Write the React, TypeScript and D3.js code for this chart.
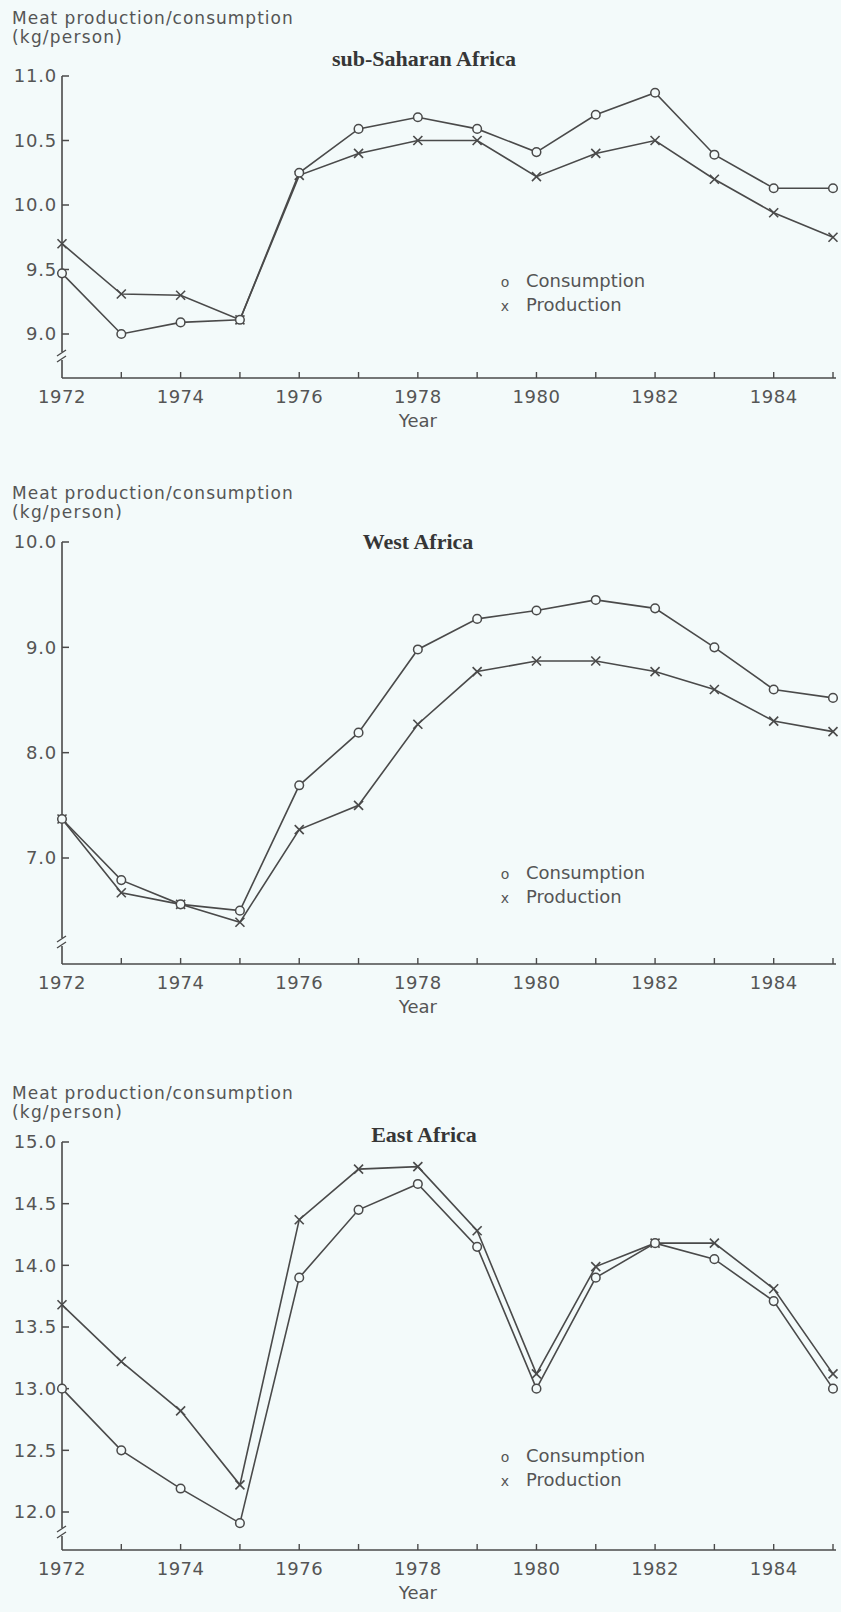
import React from 'react';
import * as d3 from 'd3';

// ---------- data ----------
const years = [1972, 1973, 1974, 1975, 1976, 1977, 1978, 1979, 1980, 1981, 1982, 1983, 1984, 1985];
const yearLabels = [1972, 1974, 1976, 1978, 1980, 1982, 1984];

const ssaConsumption = [9.47, 9.0, 9.09, 9.11, 10.25, 10.59, 10.68, 10.59, 10.41, 10.7, 10.87, 10.39, 10.13, 10.13];
const ssaProduction = [9.7, 9.31, 9.3, 9.11, 10.23, 10.4, 10.5, 10.5, 10.22, 10.4, 10.5, 10.2, 9.94, 9.75];
const ssaTicks = [9.0, 9.5, 10.0, 10.5, 11.0];

const waConsumption = [7.37, 6.79, 6.56, 6.5, 7.69, 8.19, 8.98, 9.27, 9.35, 9.45, 9.37, 9.0, 8.6, 8.52];
const waProduction = [7.37, 6.67, 6.56, 6.39, 7.27, 7.5, 8.27, 8.77, 8.87, 8.87, 8.77, 8.6, 8.3, 8.2];
const waTicks = [7.0, 8.0, 9.0, 10.0];

const eaConsumption = [13.0, 12.5, 12.19, 11.91, 13.9, 14.45, 14.66, 14.15, 13.0, 13.9, 14.18, 14.05, 13.71, 13.0];
const eaProduction = [13.68, 13.22, 12.82, 12.22, 14.37, 14.78, 14.8, 14.28, 13.12, 13.99, 14.18, 14.18, 13.81, 13.12];
const eaTicks = [12.0, 12.5, 13.0, 13.5, 14.0, 14.5, 15.0];

const titles = ['sub-Saharan Africa', 'West Africa', 'East Africa'];
const yLabelLine1 = 'Meat production/consumption';
const yLabelLine2 = '(kg/person)';
const legendLabels = ['Consumption', 'Production'];
const xTitle = 'Year';

// ---------- layout (pixels) ----------
const W = 841;
const H = 1612;
const X0 = 62;
const X1 = 833;
const AXIS_END = 836;
const INK = '#4a4a4a';
const TEXT = '#555555';
const BG = '#f3fafa';
const SANS = "'DejaVu Sans', 'Open Sans', sans-serif";
const SERIF = "'Liberation Serif', 'Times New Roman', serif";

const panels = [
  { title: titles[0], cons: ssaConsumption, prod: ssaProduction, ticks: ssaTicks, dom: [9.0, 11.0], rng: [334, 76], axisY: 378, breakY: 357, label1: 24, label2: 43, titleX: 424, titleY: 66, legendY: 287 },
  { title: titles[1], cons: waConsumption, prod: waProduction, ticks: waTicks, dom: [7.0, 10.0], rng: [858, 542], axisY: 964, breakY: 943, label1: 499, label2: 518, titleX: 418, titleY: 549, legendY: 879 },
  { title: titles[2], cons: eaConsumption, prod: eaProduction, ticks: eaTicks, dom: [12.0, 15.0], rng: [1512, 1142], axisY: 1550, breakY: 1533, label1: 1099, label2: 1118, titleX: 424, titleY: 1142, legendY: 1462 },
];

const x = d3.scaleLinear().domain([years[0], years[years.length - 1]]).range([X0, X1]);
const fmt = d3.format('.1f');

function Panel({ p }: { p: any }) {
  const y = d3.scaleLinear().domain(p.dom).range(p.rng);
  const line = d3.line<number>().x((_, i) => x(years[i])).y((d) => y(d));
  const topY = y(p.dom[1]);
  const b = p.breakY;
  return (
    <g>
      <text x={12} y={p.label1} fontFamily={SANS} fontSize={17} letterSpacing={1} fill={TEXT}>{yLabelLine1}</text>
      <text x={12} y={p.label2} fontFamily={SANS} fontSize={17} letterSpacing={1.2} fill={TEXT}>{yLabelLine2}</text>
      <text x={p.titleX} y={p.titleY} textAnchor="middle" fontFamily={SERIF} fontWeight="bold" fontSize={22} fill="#363636">{p.title}</text>

      {/* y axis with break */}
      <line x1={X0} x2={X0} y1={topY} y2={b - 5} stroke={INK} strokeWidth={1.6} />
      <line x1={X0} x2={X0} y1={b + 3} y2={p.axisY} stroke={INK} strokeWidth={1.6} />
      <line x1={X0 - 5} x2={X0 + 4} y1={b - 1} y2={b - 7} stroke={INK} strokeWidth={1.4} />
      <line x1={X0 - 5} x2={X0 + 4} y1={b + 5} y2={b - 1} stroke={INK} strokeWidth={1.4} />

      {p.ticks.map((t: number) => (
        <g key={t}>
          <line x1={X0} x2={X0 + 7} y1={y(t)} y2={y(t)} stroke={INK} strokeWidth={1.5} />
          <text x={X0 - 5} y={y(t)} dy="0.36em" textAnchor="end" fontFamily={SANS} fontSize={18} letterSpacing={0.8} fill={TEXT}>{fmt(t)}</text>
        </g>
      ))}

      {/* x axis */}
      <line x1={X0} x2={AXIS_END} y1={p.axisY} y2={p.axisY} stroke={INK} strokeWidth={1.6} />
      {years.slice(1).map((yr) => (
        <line key={yr} x1={x(yr)} x2={x(yr)} y1={p.axisY} y2={p.axisY - 6} stroke={INK} strokeWidth={1.4} />
      ))}
      {yearLabels.map((yr) => (
        <text key={yr} x={x(yr)} y={p.axisY + 25} textAnchor="middle" fontFamily={SANS} fontSize={18} letterSpacing={0.5} fill={TEXT}>{yr}</text>
      ))}
      <text x={x(1978)} y={p.axisY + 49} textAnchor="middle" fontFamily={SANS} fontSize={18} fill={TEXT}>{xTitle}</text>

      {/* series */}
      <path d={line(p.prod) || ''} fill="none" stroke={INK} strokeWidth={1.6} />
      <path d={line(p.cons) || ''} fill="none" stroke={INK} strokeWidth={1.6} />
      {p.prod.map((v: number, i: number) => {
        const cx = x(years[i]);
        const cy = y(v);
        const s = 4.5;
        return (
          <g key={'p' + i} stroke={INK} strokeWidth={1.6}>
            <line x1={cx - s} x2={cx + s} y1={cy - s} y2={cy + s} />
            <line x1={cx - s} x2={cx + s} y1={cy + s} y2={cy - s} />
          </g>
        );
      })}
      {p.cons.map((v: number, i: number) => (
        <circle key={'c' + i} cx={x(years[i])} cy={y(v)} r={4.3} fill={BG} stroke={INK} strokeWidth={1.5} />
      ))}

      {/* legend */}
      <text x={505} y={p.legendY} textAnchor="middle" fontFamily={SANS} fontSize={14} fill={TEXT}>o</text>
      <text x={526} y={p.legendY} fontFamily={SANS} fontSize={18} fill={TEXT}>{legendLabels[0]}</text>
      <text x={505} y={p.legendY + 24} textAnchor="middle" fontFamily={SANS} fontSize={14} fill={TEXT}>x</text>
      <text x={526} y={p.legendY + 24} fontFamily={SANS} fontSize={18} fill={TEXT}>{legendLabels[1]}</text>
    </g>
  );
}

export default function App() {
  return (
    <svg width={W} height={H} viewBox={`0 0 ${W} ${H}`} style={{ position: 'absolute', left: 0, top: 0, background: BG }}>
      <rect x={0} y={0} width={W} height={H} fill={BG} />
      {panels.map((p, i) => (
        <Panel key={i} p={p} />
      ))}
    </svg>
  );
}
